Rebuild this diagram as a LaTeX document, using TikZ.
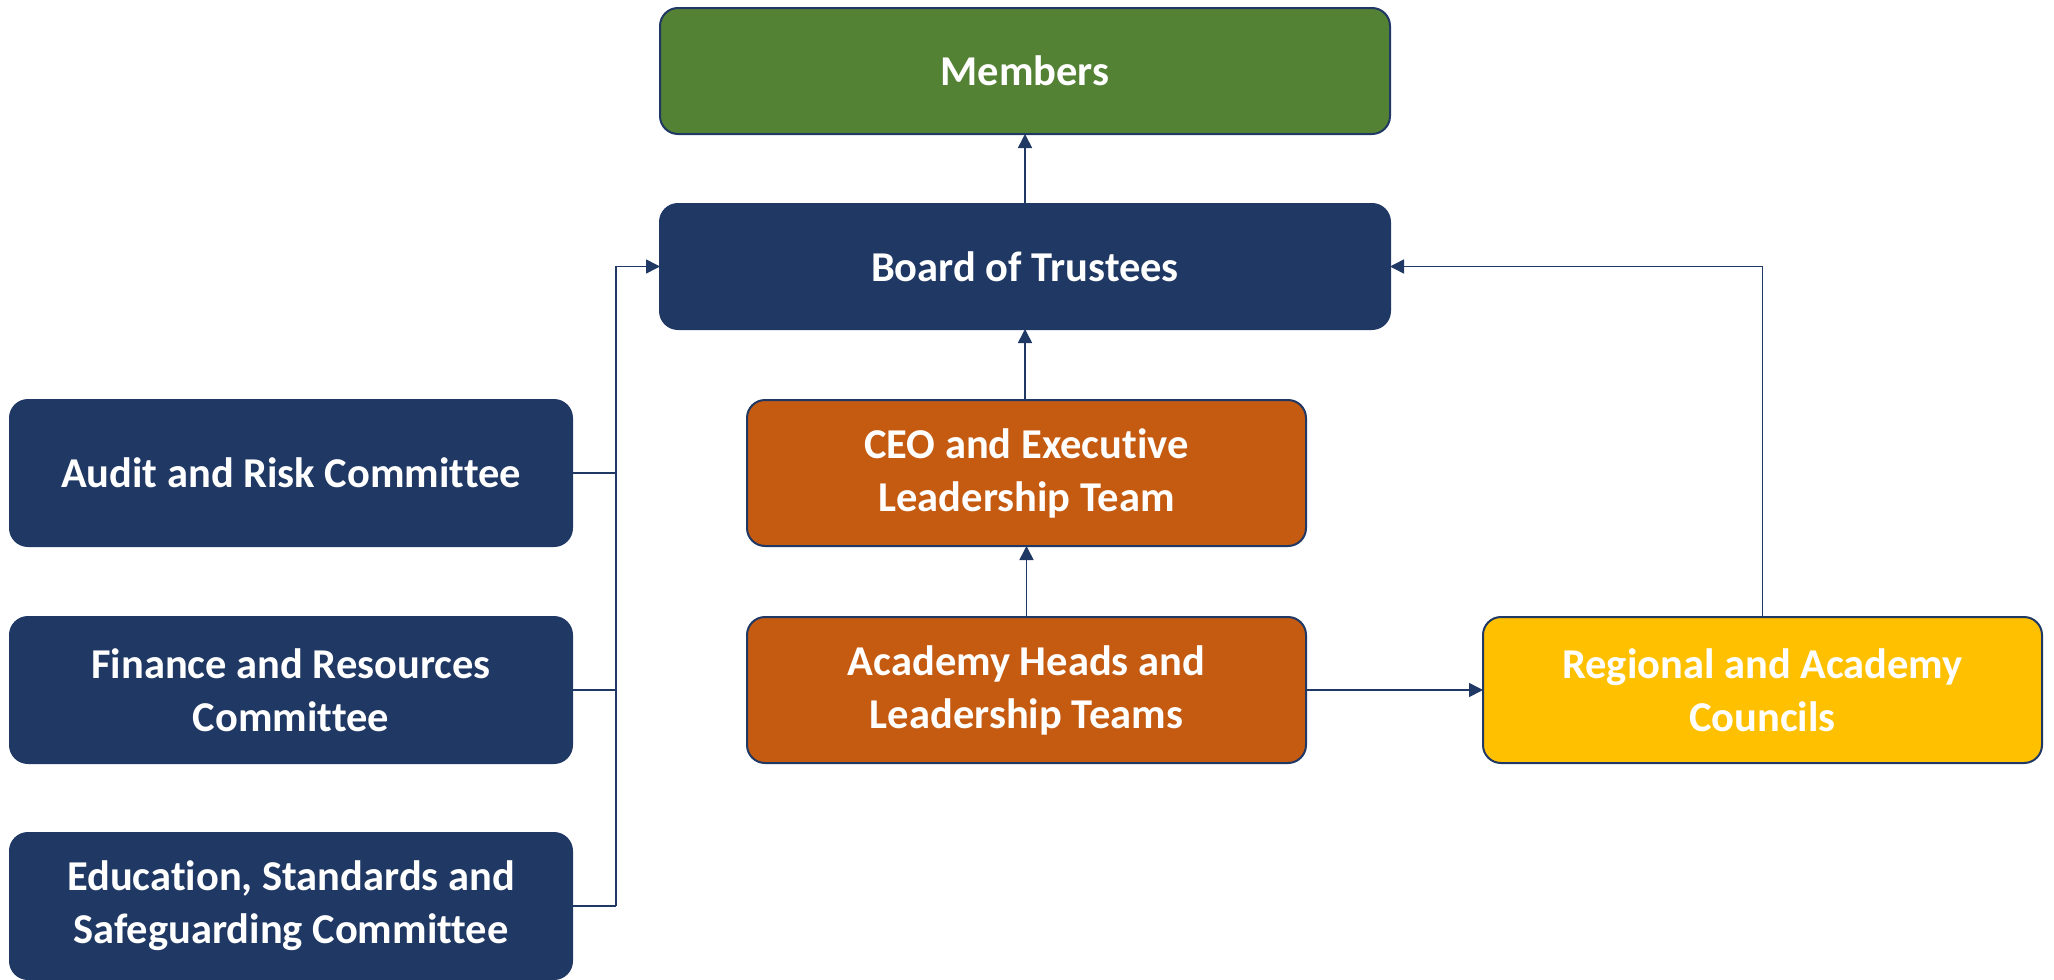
\documentclass[tikz,border=0pt]{standalone}
\usepackage{fontspec}
\setmainfont{Carlito}[Ligatures=NoCommon]
\usetikzlibrary{positioning, arrows.meta}
\definecolor{navy}{HTML}{203864}
\definecolor{leafgreen}{HTML}{548235}
\definecolor{rust}{HTML}{C55A11}
\definecolor{amber}{HTML}{FFC000}
\tikzstyle{box} = [rectangle, rounded corners=18pt, draw=navy, line width=2pt, outer sep=0pt, text=white, align=center, font=\bfseries\fontsize{42.5}{53}\selectfont, inner sep=0pt]
\tikzstyle{members} = [box, minimum width=730pt, minimum height=126pt, fill=leafgreen]
\tikzstyle{trustees} = [box, minimum width=730pt, minimum height=125pt, fill=navy]
\tikzstyle{committee} = [box, minimum width=562pt, minimum height=146pt, fill=navy]
\tikzstyle{executive} = [box, minimum width=559pt, minimum height=146pt, fill=rust]
\tikzstyle{council} = [box, minimum width=559pt, minimum height=146pt, fill=amber]
\tikzstyle{arrow} = [draw=navy, line width=1.6pt, -{Triangle[length=14pt,width=14pt]}]
\tikzstyle{link} = [draw=navy, line width=1.6pt]

\begin{document}
\begin{tikzpicture}[x=1pt, y=1pt, node distance=71pt]
		\useasboundingbox (0,0) rectangle (2054,-980);
		\node (members) [members] at (1025,-71) {Members};
		\node (board) [trustees, below=70pt of members] {Board of Trustees};
		\node (ceo) [executive, below=of board, xshift=1.5pt] {CEO and Executive\\Leadership Team};
		\node (heads) [executive, below=of ceo] {Academy Heads and\\Leadership Teams};
		\node (councils) [council, right=177pt of heads] {Regional and Academy\\Councils};
		\node (audit) [committee, left=175pt of ceo] {Audit and Risk Committee};
		\node (finance) [committee, below=of audit] {Finance and Resources\\Committee};
		\node (education) [committee, below=70pt of finance] {Education, Standards and\\Safeguarding Committee};
		\coordinate (bus) at ([xshift=44pt]audit.east);
		\draw [arrow] (heads) -- (ceo);
		\draw [arrow] (ceo.north -| board.south) -- (board);
		\draw [arrow] (board) -- (members);
		\draw [arrow] (heads) -- (councils);
		\draw [arrow] (councils.north) |- (board.east);
		\draw [link] (audit.east) -- (bus);
		\draw [link] (finance.east) -- (finance.east -| bus);
		\draw [link] (education.east) -- (education.east -| bus);
		\draw [arrow] (education.east -| bus) |- (board.west);
	\end{tikzpicture}
\end{document}
